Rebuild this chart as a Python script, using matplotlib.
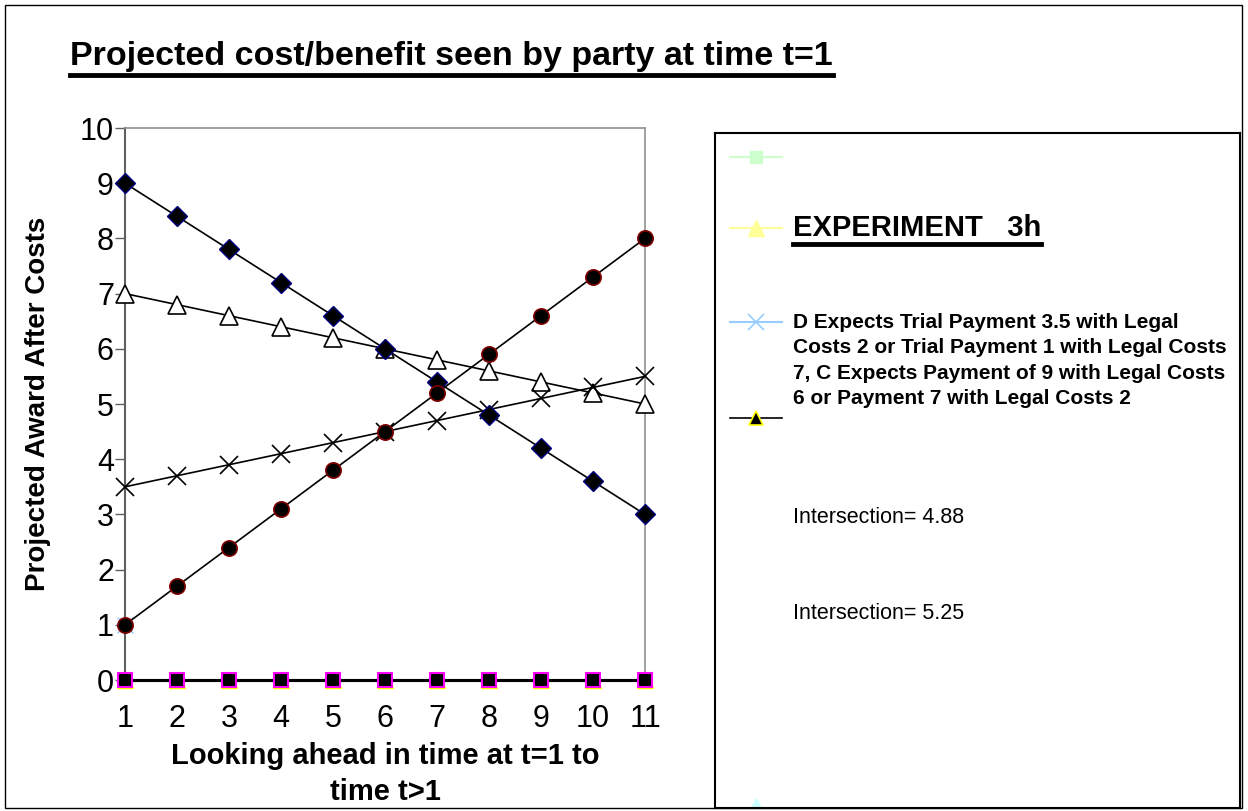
import matplotlib.pyplot as plt
from matplotlib.lines import Line2D
from matplotlib.patches import Rectangle

plt.rcParams['font.family'] = ['Liberation Sans', 'DejaVu Sans']

# data
time_steps = [1, 2, 3, 4, 5, 6, 7, 8, 9, 10, 11]
c_payment_9 = [9.0, 8.4, 7.8, 7.2, 6.6, 6.0, 5.4, 4.8, 4.2, 3.6, 3.0]
d_payment_35 = [1.0, 1.7, 2.4, 3.1, 3.8, 4.5, 5.2, 5.9, 6.6, 7.3, 8.0]
c_payment_7 = [7.0, 6.8, 6.6, 6.4, 6.2, 6.0, 5.8, 5.6, 5.4, 5.2, 5.0]
d_payment_1 = [3.5, 3.7, 3.9, 4.1, 4.3, 4.5, 4.7, 4.9, 5.1, 5.3, 5.5]
zero_line = [0, 0, 0, 0, 0, 0, 0, 0, 0, 0, 0]

title_text = "Projected cost/benefit seen by party at time t=1"
x_label = "Looking ahead in time at t=1 to\ntime t>1"
y_label = "Projected Award After Costs"
experiment_text = "EXPERIMENT   3h"
legend_long = ("D Expects Trial Payment 3.5 with Legal\n"
               "Costs 2 or Trial Payment 1 with Legal Costs\n"
               "7, C Expects Payment of 9 with Legal Costs\n"
               "6 or Payment 7 with Legal Costs 2")
intersections = [4.88, 5.25]

W, H = 1248, 811
fig = plt.figure(figsize=(W / 100, H / 100), dpi=100)


def fx(px):
    return px / W


def fy(py):
    return 1 - py / H


# outer border
fig.add_artist(Rectangle((fx(5), fy(808)), fx(1242) - fx(5), fy(5) - fy(808),
                         transform=fig.transFigure, fill=False, ec='black', lw=1))

ax = fig.add_axes([fx(125), fy(680), fx(645) - fx(125), fy(128) - fy(680)])

ax.plot(time_steps, c_payment_9, color='black', lw=1.2, marker='D', ms=10,
        mfc='black', mec='#000080', mew=1, clip_on=False, zorder=4)
ax.plot(time_steps, d_payment_35, color='black', lw=1.2, marker='o', ms=11,
        mfc='black', mec='#800000', mew=1.2, clip_on=False, zorder=5)
ax.plot(time_steps, c_payment_7, color='black', lw=1.2, marker='^', ms=13,
        mfc='white', mec='black', mew=1.2, clip_on=False, zorder=3)
ax.plot(time_steps, d_payment_1, color='black', lw=1.2, marker='x', ms=13,
        mec='black', mew=1.2, clip_on=False, zorder=3)
# hidden series on the zero line
ax.plot(time_steps, zero_line, color='black', lw=2.2, marker='^', ms=11,
        mfc='yellow', mec='yellow', clip_on=False, zorder=6)
ax.plot(time_steps, zero_line, color='black', lw=2.2, marker='s', ms=10,
        mfc='black', mec='magenta', mew=1.5, clip_on=False, zorder=7)
ax.plot(time_steps[:1], [1], ls='none', marker='x', ms=11, mec='#99ccff',
        mew=1, clip_on=False, zorder=4.5)

ax.set_xlim(1, 11)
ax.set_ylim(0, 10)
ax.set_xticks(time_steps)
ax.set_yticks(range(0, 11))
ax.tick_params(axis='y', direction='out', length=7, width=1, color='#606060',
               labelsize=22, pad=1)
ax.tick_params(axis='x', direction='out', length=4, width=1, color='black',
               labelsize=22, pad=13)
for side in ['top', 'right']:
    ax.spines[side].set_color('#909090')
    ax.spines[side].set_linewidth(1.2)
ax.spines['left'].set_color('#606060')
ax.spines['left'].set_linewidth(1.5)
ax.spines['bottom'].set_color('black')

ax.set_xlabel(x_label, fontsize=21, fontweight='bold', linespacing=1.35, labelpad=6)
ax.set_ylabel(y_label, fontsize=20, fontweight='bold', labelpad=21)

# legend panel built by hand, in pixel coordinates
lg = fig.add_axes([fx(715), fy(808), fx(1240) - fx(715), fy(133) - fy(808)])
lg.set_xlim(715, 1240)
lg.set_ylim(808, 133)
lg.set_xticks([])
lg.set_yticks([])
for sp in lg.spines.values():
    sp.set_color('black')
    sp.set_linewidth(1.5)

sample_x = [730, 782]
lg.plot(sample_x, [157, 157], color='#ccffcc', lw=1.5)
lg.plot([756], [157], marker='s', ms=9, mfc='#ccffcc', mec='#ccffcc')
lg.plot(sample_x, [228, 228], color='#ffff99', lw=1.5)
lg.plot([756], [228], marker='^', ms=11, mfc='#ffff99', mec='#ffff99')
lg.plot(sample_x, [322, 322], color='#99ccff', lw=1.5)
lg.plot([756], [322], marker='x', ms=11, mec='#99ccff', mew=1.2)
lg.plot(sample_x, [418, 418], color='black', lw=1.2)
lg.plot([756], [418], marker='^', ms=10, mfc='black', mec='yellow', mew=1.2)
lg.plot([756], [806], marker='^', ms=11, mfc='#ccffff', mec='#ccffff')

t_exp = lg.text(793, 228, experiment_text, fontsize=21, fontweight='bold',
                va='center', ha='left')
lg.text(793, 313, legend_long, fontsize=15, fontweight='bold', va='top',
        ha='left', linespacing=1.42)
for val, ypos in zip(intersections, [517, 613]):
    lg.text(793, ypos, "Intersection= {:.2f}".format(val), fontsize=15.5,
            va='center', ha='left')

t_title = fig.text(fx(70), fy(56), title_text, fontsize=24.5, fontweight='bold',
                   va='center', ha='left')

# underline the title and the experiment label
fig.canvas.draw()
renderer = fig.canvas.get_renderer()
for t, off in [(t_title, 3), (t_exp, 2)]:
    bb = t.get_window_extent(renderer)
    y = bb.y0 - off
    fig.add_artist(Line2D([bb.x0 / W, bb.x1 / W], [y / H, y / H],
                          transform=fig.transFigure, color='black', lw=3.5))

fig.savefig('out.png', dpi=100)
